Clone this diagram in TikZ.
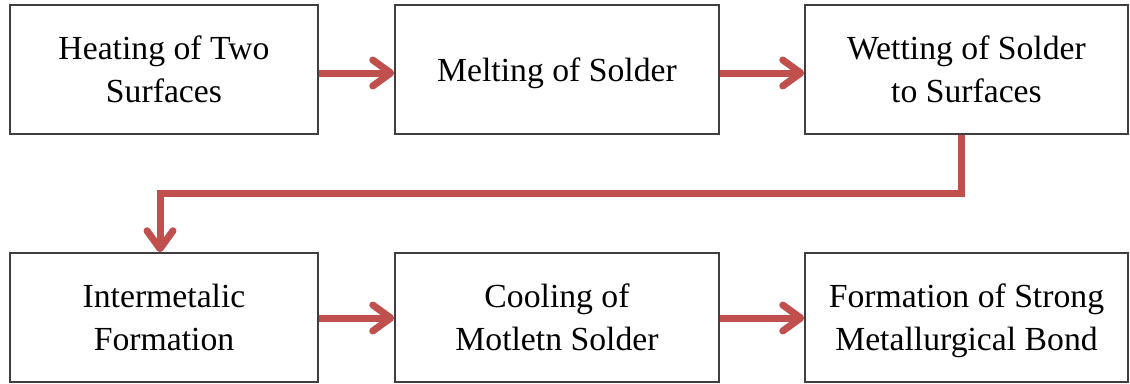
\documentclass[tikz,border=0pt]{standalone}
\usepackage{fontspec}
\setmainfont{Liberation Serif}
\usetikzlibrary{arrows.meta,calc}
\definecolor{arrred}{HTML}{C0504D}
\definecolor{boxgray}{HTML}{3F3F3F}
\newcommand\topst{\rule{0pt}{31.4pt}}
\newcommand\botst{\rule[-8pt]{0pt}{8pt}}
\begin{document}
\begin{tikzpicture}[x=1pt,y=-1pt,
  stepbox/.style={draw=boxgray,line width=1.5pt,fill=white,minimum height=129pt,
    inner sep=0pt,align=center,font=\fontsize{33.7}{43.4}\selectfont},
  flow/.style={draw=arrred,line width=7pt,
    -{Straight Barb[length=18pt,width=26pt,round]}}]
\useasboundingbox (0,0) rectangle (1130,383);
\fill[white] (0,0) rectangle (1130,383);
\node[stepbox,minimum width=308pt] (b1) at (164,69.5) {\topst Heating of Two\\Surfaces\botst};
\node[stepbox,minimum width=324pt] (b2) at (557,69.5) {\topst Melting of Solder\botst};
\node[stepbox,minimum width=323pt] (b3) at (966.5,69.5) {\topst Wetting of Solder\\to Surfaces\botst};
\node[stepbox,minimum width=308pt] (b4) at (164,317.5) {\topst Intermetalic\\Formation\botst};
\node[stepbox,minimum width=324pt] (b5) at (557,317.5) {\topst Cooling of\\Motletn Solder\botst};
\node[stepbox,minimum width=323pt] (b6) at (966.5,317.5) {\topst Formation of Strong\\Metallurgical Bond\botst};
\coordinate (m) at (961,193);
\draw[flow] ([yshift=-3.5pt]b1.east) -- ([yshift=-3.5pt]b2.west);
\draw[flow] ([yshift=-3.5pt]b2.east) -- ([yshift=-3.5pt]b3.west);
\draw[flow] (b3.south -| m) -- (m) -| ([xshift=-4pt]b4.north);
\draw[flow] ([yshift=-0.5pt]b4.east) -- ([yshift=-0.5pt]b5.west);
\draw[flow] ([yshift=-0.5pt]b5.east) -- ([yshift=-0.5pt]b6.west);
\end{tikzpicture}
\end{document}
